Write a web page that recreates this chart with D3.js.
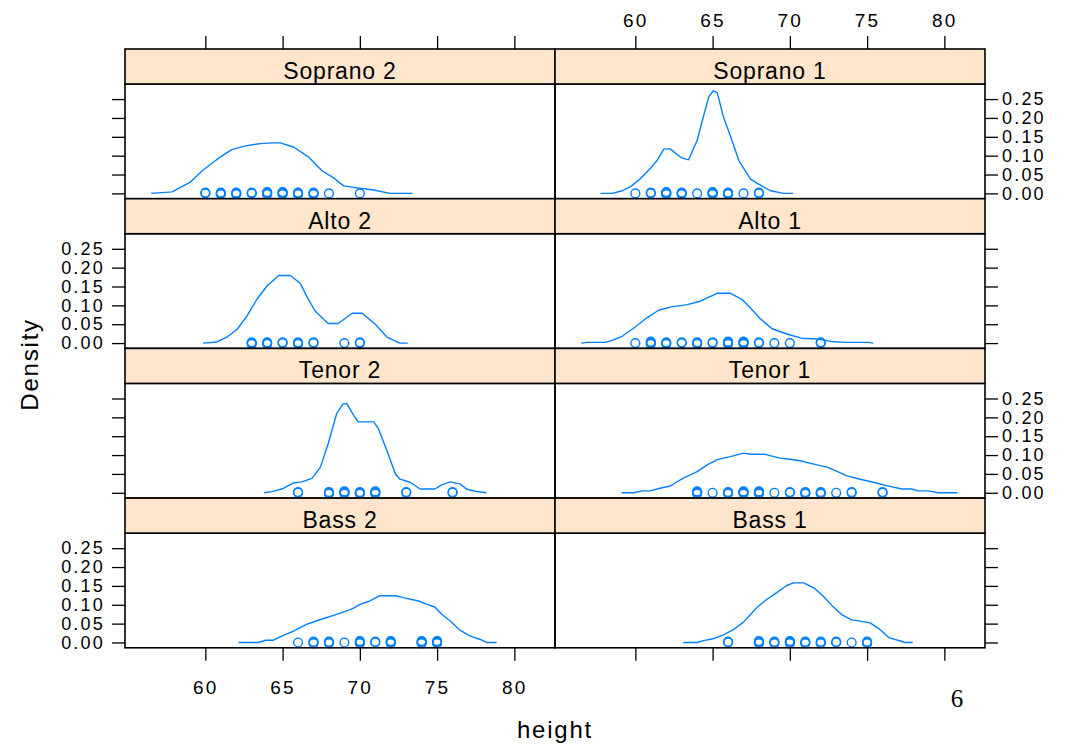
<!DOCTYPE html>
<html>
<head>
<meta charset="utf-8">
<script src="https://cdn.jsdelivr.net/npm/d3@7"></script>
<style>
  html, body { margin: 0; padding: 0; background: #ffffff; }
  svg { display: block; }
  text { font-family: "Liberation Sans", Arial, sans-serif; fill: #000; }
</style>
</head>
<body>
<svg id="chart" width="1070" height="744"></svg>
<script>
// Panel order, left-to-right then top-to-bottom
const panelNames = ["Soprano 2", "Soprano 1", "Alto 2", "Alto 1", "Tenor 2", "Tenor 1", "Bass 2", "Bass 1"];

const xTicks = [60, 65, 70, 75, 80];
const yTicks = [0, 0.05, 0.10, 0.15, 0.20, 0.25];

// Kernel density estimates of height (inches) for each voice part: [height, density]
const soprano2Density = [[56.5,0],[57.85,0.004],[58.3,0.014],[59.0,0.029],[59.8,0.060],[60.75,0.090],[61.7,0.116],[62.6,0.126],[63.55,0.132],[64.3,0.134],[64.85,0.134],[65.7,0.123],[66.7,0.096],[67.55,0.060],[68.3,0.041],[68.95,0.020],[69.6,0.016],[70.9,0.009],[71.95,0],[73.4,0]];
const soprano1Density = [[57.75,0],[58.5,0],[59.15,0.007],[59.7,0.018],[60.3,0.038],[60.95,0.065],[61.4,0.087],[61.85,0.118],[62.25,0.118],[63.0,0.094],[63.45,0.089],[64.0,0.141],[64.4,0.203],[64.75,0.256],[65.05,0.272],[65.3,0.267],[65.7,0.203],[66.25,0.141],[66.7,0.087],[67.45,0.038],[67.95,0.025],[68.75,0.007],[69.6,0],[70.2,0]];
const alto2Density = [[59.85,0],[60.75,0.003],[61.4,0.016],[62.05,0.036],[62.7,0.072],[63.35,0.117],[64.0,0.152],[64.75,0.179],[65.5,0.179],[66.15,0.158],[66.55,0.125],[67.1,0.085],[67.95,0.052],[68.6,0.052],[69.5,0.079],[70.15,0.079],[71.0,0.050],[71.75,0.016],[72.6,0],[73.1,0]];
const alto1Density = [[56.5,0],[56.9,0.002],[58.05,0.002],[58.5,0.007],[59.15,0.018],[59.9,0.040],[60.75,0.067],[61.5,0.087],[62.35,0.096],[63.35,0.102],[64.2,0.111],[65.3,0.132],[66.15,0.132],[66.9,0.116],[67.45,0.093],[68.1,0.064],[68.85,0.038],[69.8,0.024],[70.75,0.013],[71.75,0.011],[72.7,0.004],[73.55,0.002],[75.1,0.002],[75.4,0]];
const tenor2Density = [[63.8,0],[64.3,0.003],[64.95,0.010],[65.7,0.026],[66.25,0.029],[66.9,0.038],[67.45,0.068],[67.95,0.130],[68.5,0.210],[68.9,0.235],[69.15,0.237],[69.6,0.205],[69.9,0.188],[70.9,0.188],[71.2,0.170],[71.75,0.112],[72.3,0.050],[72.6,0.036],[73.25,0.028],[73.9,0.010],[74.85,0.010],[75.3,0.021],[75.85,0.029],[76.5,0.023],[76.9,0.010],[77.45,0.004],[78.2,0]];
const tenor1Density = [[59.1,0],[59.9,0],[60.45,0.005],[60.95,0.005],[61.6,0.012],[62.25,0.018],[63.1,0.039],[64.0,0.056],[64.65,0.074],[65.3,0.088],[66.15,0.096],[67.0,0.105],[67.45,0.102],[68.4,0.102],[69.35,0.092],[70.0,0.089],[70.65,0.085],[71.55,0.076],[72.4,0.068],[73.05,0.057],[73.7,0.045],[74.55,0.036],[75.4,0.028],[76.25,0.019],[77.25,0.010],[77.9,0.010],[78.3,0.005],[78.95,0.005],[79.6,0],[80.85,0]];
const bass2Density = [[62.15,0],[63.45,0],[63.9,0.006],[64.4,0.006],[65.05,0.019],[65.7,0.030],[66.55,0.048],[67.45,0.061],[68.3,0.072],[69.15,0.084],[69.6,0.091],[70.0,0.101],[70.65,0.110],[71.3,0.124],[72.3,0.124],[72.8,0.119],[73.8,0.110],[74.35,0.101],[74.85,0.094],[75.3,0.075],[75.85,0.057],[76.5,0.032],[77.15,0.017],[77.8,0.008],[78.2,0],[78.85,0]];
const bass1Density = [[63.1,0],[64.0,0],[64.4,0.005],[65.05,0.010],[65.7,0.020],[66.35,0.034],[67.0,0.054],[67.85,0.092],[68.5,0.114],[69.15,0.132],[69.8,0.151],[70.25,0.158],[70.9,0.158],[71.55,0.145],[72.15,0.123],[72.7,0.099],[73.35,0.074],[74.0,0.060],[74.65,0.056],[75.2,0.052],[75.85,0.034],[76.4,0.013],[77.15,0.004],[77.45,0],[77.95,0]];

// Observed heights and how many singers share each height
const soprano2Heights = [60, 61, 62, 63, 64, 65, 66, 67, 68, 70];
const soprano2Counts  = [2, 3, 3, 2, 4, 4, 3, 3, 1, 1];
const soprano1Heights = [60, 61, 62, 63, 64, 65, 66, 67, 68];
const soprano1Counts  = [1, 2, 4, 3, 1, 4, 3, 1, 2];
const alto2Heights = [63, 64, 65, 66, 67, 69, 70];
const alto2Counts  = [3, 3, 2, 3, 2, 1, 2];
const alto1Heights = [60, 61, 62, 63, 64, 65, 66, 67, 68, 69, 70, 72];
const alto1Counts  = [1, 4, 3, 2, 3, 2, 4, 4, 2, 1, 1, 2];
const tenor2Heights = [66, 68, 69, 70, 71, 73, 76];
const tenor2Counts  = [2, 3, 4, 3, 4, 2, 2];
const tenor1Heights = [64, 65, 66, 67, 68, 69, 70, 71, 72, 73, 74, 76];
const tenor1Counts  = [4, 1, 3, 4, 4, 1, 2, 3, 3, 1, 2, 2];
const bass2Heights = [66, 67, 68, 69, 70, 71, 72, 74, 75];
const bass2Counts  = [1, 3, 3, 1, 4, 2, 4, 4, 4];
const bass1Heights = [66, 68, 69, 70, 71, 72, 73, 74, 75];
const bass1Counts  = [2, 4, 3, 4, 3, 3, 2, 1, 3];

const densities = [soprano2Density, soprano1Density, alto2Density, alto1Density, tenor2Density, tenor1Density, bass2Density, bass1Density];
const heightLists = [soprano2Heights, soprano1Heights, alto2Heights, alto1Heights, tenor2Heights, tenor1Heights, bass2Heights, bass1Heights];
const countLists = [soprano2Counts, soprano1Counts, alto2Counts, alto1Counts, tenor2Counts, tenor1Counts, bass2Counts, bass1Counts];

const panels = panelNames.map((name, i) => ({
  name,
  col: i % 2,
  row: Math.floor(i / 2),
  curve: densities[i],
  points: heightLists[i].map((h, j) => ({ h, n: countLists[i][j] }))
}));

// Layout
const plotLeft = 125, panelW = 430;
const plotTop = 49, stripH = 35, panelH = 114.7, rowH = stripH + panelH;
const lineColor = "#0080ff";
const stripFill = "#ffe5cc";
const tickLen = 13;

const svg = d3.select("#chart");

const x = d3.scaleLinear().domain([54.8, 82.63]).range([0, panelW]);
const y = d3.scaleLinear().domain([-0.0141, 0.290]).range([panelH, 0]);

const line = d3.line().x(d => x(d[0])).y(d => y(d[1]));

function styleAxis(g, labelled, fontSize) {
  g.select(".domain").remove();
  g.selectAll(".tick line").attr("stroke", "#000").attr("stroke-width", 1.3);
  g.selectAll(".tick text")
    .attr("fill", "#000")
    .style("font-size", fontSize + "px")
    .style("letter-spacing", "2.2px")
    .style("font-family", "'Liberation Sans', Arial, sans-serif")
    .attr("visibility", labelled ? "visible" : "hidden");
}

panels.forEach(p => {
  const px = plotLeft + p.col * panelW;
  const stripY = plotTop + p.row * rowH;
  const py = stripY + stripH;
  const g = svg.append("g").attr("transform", `translate(${px},${py})`);

  // density curve
  g.append("path")
    .datum(p.curve)
    .attr("d", line)
    .attr("fill", "none")
    .attr("stroke", lineColor)
    .attr("stroke-width", 1.4)
    .attr("stroke-linejoin", "round");

  // observations along the baseline; repeated heights overprint
  const spread = [0, -0.8, 0.8, -1.4, 1.4];
  p.points.forEach(pt => {
    for (let k = 0; k < pt.n; k++) {
      g.append("circle")
        .attr("cx", x(pt.h))
        .attr("cy", y(0) + spread[k % spread.length])
        .attr("r", 4.4)
        .attr("fill", "none")
        .attr("stroke", lineColor)
        .attr("stroke-width", 1.4);
    }
  });

  // panel border
  g.append("rect")
    .attr("x", 0).attr("y", 0)
    .attr("width", panelW).attr("height", panelH)
    .attr("fill", "none").attr("stroke", "#000").attr("stroke-width", 1.6);

  // strip
  const s = svg.append("g").attr("transform", `translate(${px},${stripY})`);
  s.append("rect")
    .attr("width", panelW).attr("height", stripH)
    .attr("fill", stripFill).attr("stroke", "#000").attr("stroke-width", 1.6);
  s.append("text")
    .attr("x", panelW / 2).attr("y", 30)
    .attr("text-anchor", "middle")
    .style("font-size", "23px")
    .style("letter-spacing", "0.8px")
    .text(p.name);

  // y axes: left on every row (labels on rows 2 and 4), right on every row (labels on rows 1 and 3)
  if (p.col === 0) {
    const ga = g.append("g")
      .call(d3.axisLeft(y).tickValues(yTicks).tickFormat(d3.format(".2f")).tickSize(tickLen).tickPadding(7));
    styleAxis(ga, p.row % 2 === 1, 18);
  } else {
    const ga = g.append("g").attr("transform", `translate(${panelW},0)`)
      .call(d3.axisRight(y).tickValues(yTicks).tickFormat(d3.format(".2f")).tickSize(tickLen).tickPadding(4));
    styleAxis(ga, p.row % 2 === 0, 18);
  }

  // x axes: top above the first row, bottom below the last row
  if (p.row === 0) {
    const ga = svg.append("g").attr("transform", `translate(${px},${stripY})`)
      .call(d3.axisTop(x).tickValues(xTicks).tickSize(tickLen).tickPadding(9));
    styleAxis(ga, p.col === 1, 19);
  }
  if (p.row === 3) {
    const ga = svg.append("g").attr("transform", `translate(${px},${py + panelH})`)
      .call(d3.axisBottom(x).tickValues(xTicks).tickSize(tickLen).tickPadding(20));
    styleAxis(ga, p.col === 0, 19);
  }
});

// axis titles
svg.append("text")
  .attr("x", plotLeft + panelW).attr("y", 738)
  .attr("text-anchor", "middle")
  .style("font-size", "24px")
  .style("letter-spacing", "1.8px")
  .text("height");

svg.append("text")
  .attr("transform", `translate(38,${plotTop + 2 * rowH + 16}) rotate(-90)`)
  .attr("text-anchor", "middle")
  .style("font-size", "24px")
  .style("letter-spacing", "1.8px")
  .text("Density");

// page number
svg.append("text")
  .attr("x", 957).attr("y", 707)
  .attr("text-anchor", "middle")
  .style("font-family", "'Liberation Serif', 'DejaVu Serif', serif")
  .style("font-size", "25px")
  .attr("fill", "#222")
  .text("6");
</script>
</body>
</html>
